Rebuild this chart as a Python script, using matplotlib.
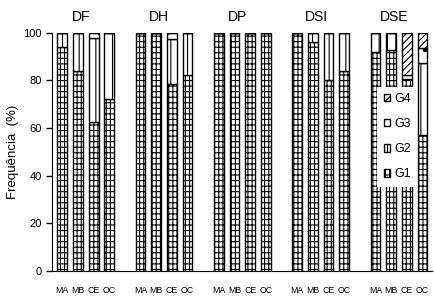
"""
plot.py — Frequência (%) das classes G1-G4 por região (MA, MB, CE, OC)
para cada descritor (DF, DH, DP, DSI, DSE), em barras empilhadas com hachuras.
"""
import numpy as np
import matplotlib
matplotlib.use("Agg")
import matplotlib.pyplot as plt

plt.rcParams["font.family"] = ["Liberation Sans", "DejaVu Sans"]
plt.rcParams["hatch.linewidth"] = 0.8

GRUPOS = ["DF", "DH", "DP", "DSI", "DSE"]
REGIOES = ["MA", "MB", "CE", "OC"]

# valores, na ordem DF(MA,MB,CE,OC), DH(...), DP, DSI, DSE
G1 = [94, 84, 62.5, 72,
      100, 100, 78.5, 82.5,
      100, 100, 100, 100,
      100, 96, 80, 84,
      92, 93, 80.5, 57]
G2 = [6, 16, 35.5, 28,
      0, 0, 19, 17.5,
      0, 0, 0, 0,
      0, 4, 20, 16,
      8, 7, 0, 30.5]
G3 = [0, 0, 2, 0,
      0, 0, 2.5, 0,
      0, 0, 0, 0,
      0, 0, 0, 0,
      0, 0, 2, 6]
G4 = [0, 0, 0, 0,
      0, 0, 0, 0,
      0, 0, 0, 0,
      0, 0, 0, 0,
      0, 0, 17.5, 6.5]

SERIES = [("G1", G1, "+++|"), ("G2", G2, "||"), ("G3", G3, "."), ("G4", G4, "/////")]


def main() -> None:
    fig = plt.figure(figsize=(4.34, 2.96), dpi=100)
    ax = fig.add_axes([0.12, 0.085, 0.875, 0.804])

    # cada grupo ocupa 5 posições: 4 barras + 1 espaço
    x = np.array([g * 5 + i for g in range(len(GRUPOS)) for i in range(len(REGIOES))], dtype=float)
    base = np.zeros(len(x))
    handles = []
    for nome, valores, hachura in SERIES:
        v = np.array(valores, dtype=float)
        barras = ax.bar(x, v, 0.63, bottom=base, color="white", edgecolor="black",
                        linewidth=1.0, hatch=hachura, label=nome)
        handles.append(barras)
        base += v

    ax.set_xlim(-0.65, x[-1] + 0.6)
    ax.set_ylim(0, 100)
    ax.set_yticks(range(0, 101, 20))
    ax.set_xticks(x)
    ax.set_xticklabels(REGIOES * len(GRUPOS), fontsize=6.3)
    ax.tick_params(axis="x", length=0, pad=11)
    ax.tick_params(axis="y", labelsize=8, length=4, width=1)
    ax.spines["top"].set_visible(False)
    ax.spines["right"].set_visible(False)
    ax.set_ylabel("Frequência  (%)", fontsize=9.5, labelpad=3)

    for g, nome in enumerate(GRUPOS):
        ax.text(g * 5 + 1.2, 106.5, nome, ha="center", va="center", fontsize=10, clip_on=False)

    leg = ax.legend(handles[::-1], [h.get_label() for h in handles[::-1]],
                    loc="upper left", bbox_to_anchor=(0.84, 0.80), fontsize=9,
                    frameon=True, fancybox=False, edgecolor="white", framealpha=1,
                    handlelength=0.55, handleheight=0.55, handletextpad=0.3,
                    labelspacing=1.05, borderpad=0.5)
    leg.get_frame().set_linewidth(0)

    fig.savefig("out.png", dpi=100)
    plt.close(fig)


if __name__ == "__main__":
    main()
